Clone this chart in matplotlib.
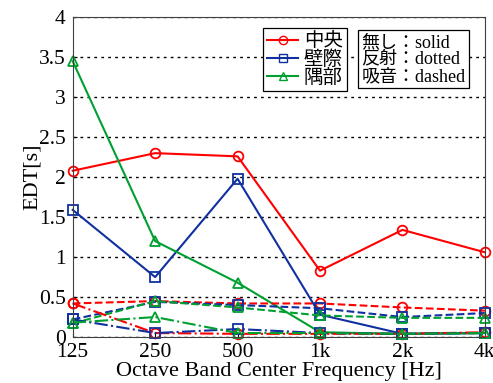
import matplotlib
matplotlib.use('Agg')
import matplotlib.pyplot as plt
from matplotlib.lines import Line2D

# Octave band centres
bands = ['125', '250', '500', '1k', '2k', '4k']

# EDT [s] - solid (無し)
center_solid = [2.08, 2.30, 2.26, 0.83, 1.34, 1.06]
wall_solid = [1.59, 0.75, 1.98, 0.28, 0.04, 0.05]
corner_solid = [3.45, 1.20, 0.68, 0.06, 0.04, 0.05]

# EDT [s] - dashed
center_dashed = [0.42, 0.45, 0.42, 0.42, 0.37, 0.33]
wall_dashed = [0.22, 0.44, 0.40, 0.36, 0.25, 0.30]
corner_dashed = [0.17, 0.45, 0.37, 0.27, 0.24, 0.24]

# EDT [s] - dash-dot
center_dashdot = [0.42, 0.05, 0.04, 0.04, 0.04, 0.06]
wall_dashdot = [0.22, 0.05, 0.10, 0.05, 0.04, 0.05]
corner_dashdot = [0.18, 0.25, 0.05, 0.05, 0.04, 0.05]

positions = list(range(len(bands)))

serif = ['Liberation Serif', 'Noto Sans CJK JP']
plt.rcParams['font.family'] = serif

red, blue, green = '#ff0000', '#1030a0', '#00a030'

fig = plt.figure(figsize=(4.93, 3.83), dpi=100)
ax = fig.add_axes([0.1475, 0.12, 0.836, 0.835])

series = [
    (center_solid, red, 'o', '-'), (wall_solid, blue, 's', '-'), (corner_solid, green, '^', '-'),
    (center_dashed, red, 'o', '--'), (wall_dashed, blue, 's', '--'), (corner_dashed, green, '^', '--'),
    (center_dashdot, red, 'o', '-.'), (wall_dashdot, blue, 's', '-.'), (corner_dashdot, green, '^', '-.'),
]
for vals, col, mk, ls in series:
    ax.plot(positions, vals, color=col, marker=mk, linestyle=ls, linewidth=1.5,
            markersize=7, markerfacecolor='none', markeredgewidth=1.3, clip_on=False)

ax.set_xlim(0, 5)
ax.set_ylim(0, 4)
ax.set_xticks(positions)
ax.set_xticklabels(bands)
ax.set_yticks([0, 0.5, 1, 1.5, 2, 2.5, 3, 3.5, 4])
ax.set_yticklabels(['0', '0.5', '1', '1.5', '2', '2.5', '3', '3.5', '4'])
ax.tick_params(labelsize=15.5, length=3, direction='in')
ax.tick_params(axis='x', pad=4)
ax.tick_params(axis='y', pad=5)
ax.yaxis.grid(True, linestyle=(0, (2, 3)), color='black', linewidth=1)
for s in ax.spines.values():
    s.set_color('#404040')

ax.set_xlabel('Octave Band Center Frequency [Hz]', fontsize=16, labelpad=0)
ax.set_ylabel('EDT[s]', fontsize=16, labelpad=-2)

handles = [
    Line2D([], [], color=red, marker='o', markerfacecolor='none', markersize=6),
    Line2D([], [], color=blue, marker='s', markerfacecolor='none', markersize=6),
    Line2D([], [], color=green, marker='^', markerfacecolor='none', markersize=6),
]
leg = ax.legend(handles, ['中央', '壁際', '隅部'], loc='upper left',
                bbox_to_anchor=(0.462, 0.965), fancybox=False, edgecolor='black',
                framealpha=1, prop={'family': serif, 'size': 14},
                handlelength=1.6, handletextpad=0.3, labelspacing=0.0,
                borderpad=0.2, borderaxespad=0)
leg.get_frame().set_linewidth(0.9)

ax.text(0.7, 0.948, '無し：solid\n反射：dotted\n吸音：dashed', transform=ax.transAxes,
        fontsize=13, va='top', ha='left', linespacing=1.0, family=serif,
        bbox=dict(boxstyle='square,pad=0.2', facecolor='white', edgecolor='black', linewidth=0.9))

fig.savefig('out.png', dpi=100)
